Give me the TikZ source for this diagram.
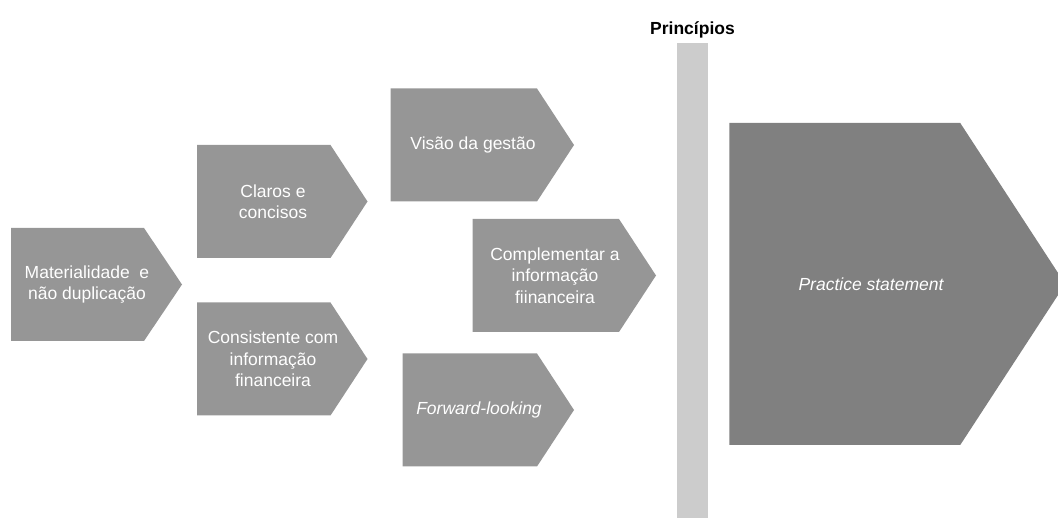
\documentclass[tikz,border=0pt]{standalone}
\usepackage{fontspec}
\setmainfont{Liberation Sans}
\usetikzlibrary{calc,backgrounds}

\definecolor{chevGray}{HTML}{969696}
\definecolor{bigGray}{HTML}{808080}
\definecolor{barGray}{HTML}{CCCCCC}

\begin{document}
\begin{tikzpicture}[
  x=1pt, y=-1pt,
  font=\fontsize{17.5}{21.5}\selectfont,
  chev/.style={minimum height=113pt, inner sep=0pt, outer sep=0pt, align=center, text=white},
  barbox/.style={fill=barGray, minimum width=31pt, minimum height=475pt, inner sep=0pt, outer sep=0pt}
]
\useasboundingbox (0,0) rectangle (1058,518);

% Left group
\node[chev, minimum width=152pt] (mat) at (87,284.5) {Materialidade\ \ e\\não duplicação};
\node[chev, minimum width=152pt] (claros) at (273,201.5) {Claros e\\concisos};
\node[chev, minimum width=152pt] (consist) at (273,359) {Consistente com\\informação\\financeira};

% Middle group
\node[chev, minimum width=165pt] (visao) at (473,145) {Visão da gestão};
\node[chev, minimum width=165pt] (compl) at (555,275.5) {Complementar a\\informação\\fiinanceira};
\node[chev, minimum width=153pt] (fwd) at (479,410) {\itshape Forward-looking};

% Principles bar
\node[barbox, label={[font=\fontsize{17.5}{21.5}\bfseries, label distance=1pt]above:Princípios}] (princ) at (692.5,280.5) {};

% Practice statement
\node[chev, minimum width=283.5pt, minimum height=322pt] (prac) at (871,284) {\itshape Practice statement};

% pentagon bodies behind the text
\begin{scope}[on background layer]
  \foreach \n/\tip in {mat/38, claros/37, consist/37, visao/37, compl/37, fwd/37}
    \fill[chevGray] (\n.north west) -- ($(\n.north east)-(\tip/2,0)$) -- ($(\n.east)+(\tip/2,0)$)
      -- ($(\n.south east)-(\tip/2,0)$) -- (\n.south west) -- cycle;
  \fill[bigGray] (prac.north west) -- ($(prac.north east)-(52.5,0)$) -- ($(prac.east)+(52.5,0)$)
    -- ($(prac.south east)-(52.5,0)$) -- (prac.south west) -- cycle;
\end{scope}

\end{tikzpicture}
\end{document}
